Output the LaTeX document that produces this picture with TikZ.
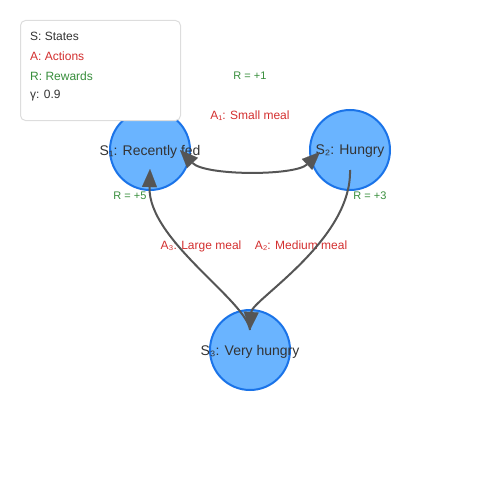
\documentclass[tikz,border=0pt]{standalone}
\usepackage{fontspec}
\setmainfont{Liberation Sans}
\usetikzlibrary{arrows.meta,calc}
\definecolor{nodefill}{RGB}{106,180,255}
\definecolor{nodeline}{RGB}{26,115,232}
\definecolor{edgecol}{RGB}{85,85,85}
\definecolor{txtdark}{RGB}{51,51,51}
\definecolor{actred}{RGB}{211,47,47}
\definecolor{rewgreen}{RGB}{56,142,60}
\definecolor{legline}{RGB}{221,221,221}
\tikzset{
  statenode/.style={circle, draw=nodeline, fill=nodefill, line width=2pt, minimum size=80pt, inner sep=0pt},
  statelabel/.style={text=txtdark, font=\fontsize{14}{16}\selectfont, inner sep=0pt},
  actlabel/.style={text=actred, font=\fontsize{12}{14}\selectfont, inner sep=0pt},
  rewlabel/.style={text=rewgreen, font=\fontsize{11}{13}\selectfont, inner sep=0pt},
  legtext/.style={font=\fontsize{12}{14}\selectfont, inner sep=0pt, anchor=west},
  conn/.style={draw=edgecol, line width=2pt},
  headtip/.tip={Triangle[length=18pt,width=15pt,line width=0.1pt]}
}
\begin{document}
\begin{tikzpicture}[x=1pt,y=-1pt]
\useasboundingbox (0,0) rectangle (500,500);
% states
\node[statenode] (rf) at (150,150) {};
\node[statenode] (hu) at (350,150) {};
\node[statenode] (vh) at (250,350) {};
\node[statelabel] (rfl) at ($(rf)+(0,1.5)$) {S₁: Recently fed};
\node[statelabel] (hul) at ($(hu)+(0,1.5)$) {S₂: Hungry};
\node[statelabel] (vhl) at ($(vh)+(0,1.5)$) {S₃: Very hungry};
% connector end points
\coordinate (rfR) at ($(rf.center)+(30,0)$);
\coordinate (rfB) at ($(rf.center)+(0,19)$);
\coordinate (huL) at ($(hu.center)+(-30,2)$);
\coordinate (huB) at ($(hu.center)+(0,20)$);
\coordinate (vhT) at ($(vh.center)+(0,-20)$);
% labels
\node[rewlabel] (r1) at (250,76) {R = +1};
\node[actlabel] (a1) at (250,116) {A₁: Small meal};
\node[rewlabel] (r5) at (130,196) {R = +5};
\node[rewlabel] (r3) at (370,196) {R = +3};
\node[actlabel] (a3) at (201,246) {A₃: Large meal};
\node[actlabel] (a2) at (301,246) {A₂: Medium meal};
% connectors
\draw[conn, arrows={headtip-headtip}] (huL) .. controls (295,176) and (205,176) .. (rfR);
\draw[conn, arrows={-headtip}] (vhT) .. controls (246,300) and (148,240) .. (rfB);
\draw[conn, arrows={-headtip}] (huB) .. controls (352,240) and (252,300) .. (vhT);
% legend
\node[draw=legline, fill=white, line width=1pt, rounded corners=5pt, minimum width=160pt, minimum height=100pt, anchor=north west, inner sep=0pt] (legend) at (20,20) {};
\node[legtext, text=txtdark] (ls) at (30,36) {S: States};
\node[legtext, text=actred] (la) at (30,56) {A: Actions};
\node[legtext, text=rewgreen] (lr) at (30,76) {R: Rewards};
\node[legtext, text=txtdark] (lg) at (30,96) {γ: 0.9};
\end{tikzpicture}
\end{document}
